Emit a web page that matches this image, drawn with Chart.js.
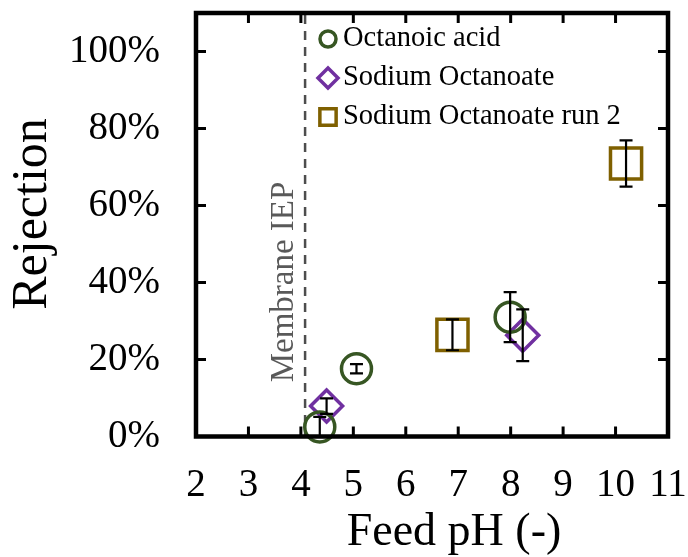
<!DOCTYPE html>
<html><head><meta charset="utf-8">
<script src="https://cdn.jsdelivr.net/npm/chart.js@4/dist/chart.umd.min.js"></script>
<style>html,body{margin:0;padding:0;background:#fff}#wrap{width:688px;height:557px}</style>
</head><body><div id="wrap"><canvas id="c" width="688" height="557"></canvas></div>
<script>
const seriesNames = ['Octanoic acid', 'Sodium Octanoate', 'Sodium Octanoate run 2'];
const acidPH = [4.36, 5.06, 7.99];
const acidRej = [2.5, 17.6, 31.0];
const acidErr = [2.6, 1.2, 6.5];
const sodiumPH = [4.49, 8.23];
const sodiumRej = [7.9, 26.3];
const sodiumErr = [2.0, 6.7];
const run2PH = [6.89, 10.2];
const run2Rej = [26.4, 70.9];
const run2Err = [4.0, 6.0];
const xTicks = [2, 3, 4, 5, 6, 7, 8, 9, 10, 11];
const yTicks = [0, 20, 40, 60, 80, 100];
const xTickLabels = xTicks.map(v => String(v));
const yTickLabels = yTicks.map(v => v + '%');
const membraneIEP = 4.08;
const iepLabel = 'Membrane IEP';
const xTitle = 'Feed pH (-)';
const yTitle = 'Rejection';

const SERIF = "'Liberation Serif', 'Times New Roman', serif";
const colors = ['#375623', '#7030A0', '#7F6000'];
const styles = ['circle', 'rectRot', 'rect'];
const radii = [15, 16, 22];
const legendRadii = [8, 10, 11.5];

function pts(xs, ys, es) { return xs.map((x, i) => ({x: x, y: ys[i], e: es[i]})); }

const datasets = [
  pts(acidPH, acidRej, acidErr),
  pts(sodiumPH, sodiumRej, sodiumErr),
  pts(run2PH, run2Rej, run2Err)
].map((d, i) => ({
  label: seriesNames[i],
  data: d,
  pointStyle: styles[i],
  pointRadius: radii[i],
  pointHoverRadius: radii[i],
  borderColor: colors[i],
  backgroundColor: 'rgba(0,0,0,0)',
  pointBorderWidth: 3.5,
  borderWidth: 3.5,
  showLine: false,
  clip: false
}));

const framePlugin = {
  id: 'frame',
  beforeDatasetsDraw(chart) {
    const {ctx, chartArea: a, scales: {x}} = chart;
    const px = x.getPixelForValue(membraneIEP);
    ctx.save();
    ctx.strokeStyle = '#4d4d4d';
    ctx.lineWidth = 2.5;
    ctx.setLineDash([9, 7]);
    ctx.beginPath();
    ctx.moveTo(px, a.top + 2);
    ctx.lineTo(px, a.bottom);
    ctx.stroke();
    ctx.setLineDash([]);
    ctx.translate(px - 12, 282);
    ctx.rotate(-Math.PI / 2);
    ctx.fillStyle = '#595959';
    ctx.font = '33px ' + SERIF;
    ctx.textAlign = 'center';
    ctx.textBaseline = 'alphabetic';
    ctx.fillText(iepLabel, 0, 0);
    ctx.restore();
  },
  afterDatasetsDraw(chart) {
    const {ctx, scales: {x, y}} = chart;
    ctx.save();
    ctx.strokeStyle = '#000';
    ctx.lineWidth = 2.2;
    chart.data.datasets.forEach(ds => {
      ds.data.forEach(p => {
        const cx = x.getPixelForValue(p.x);
        const yt = y.getPixelForValue(p.y + p.e);
        const yb = y.getPixelForValue(Math.max(0, p.y - p.e));
        ctx.beginPath();
        ctx.moveTo(cx, yt); ctx.lineTo(cx, yb);
        ctx.moveTo(cx - 6.5, yt); ctx.lineTo(cx + 6.5, yt);
        if (p.y - p.e > 0) { ctx.moveTo(cx - 6.5, yb); ctx.lineTo(cx + 6.5, yb); }
        ctx.stroke();
      });
    });
    ctx.restore();
  },
  afterDraw(chart) {
    const {ctx, chartArea: a, scales: {x, y}} = chart;
    ctx.save();
    ctx.strokeStyle = '#000';
    ctx.lineWidth = 3;
    const tl = 10;
    ctx.beginPath();
    xTicks.forEach(v => {
      if (v === xTicks[0] || v === xTicks[xTicks.length - 1]) return;
      const px = x.getPixelForValue(v);
      ctx.moveTo(px, a.bottom); ctx.lineTo(px, a.bottom - tl);
      ctx.moveTo(px, a.top); ctx.lineTo(px, a.top + tl);
    });
    yTicks.forEach(v => {
      if (v === 0) return;
      const py = y.getPixelForValue(v);
      ctx.moveTo(a.left, py); ctx.lineTo(a.left + tl, py);
      ctx.moveTo(a.right, py); ctx.lineTo(a.right - tl, py);
    });
    ctx.stroke();
    ctx.lineWidth = 4.5;
    ctx.strokeRect(a.left, a.top, a.right - a.left, a.bottom - a.top);
    ctx.restore();
    // tick labels
    ctx.save();
    ctx.fillStyle = '#000';
    ctx.font = '39px ' + SERIF;
    ctx.textBaseline = 'middle';
    ctx.textAlign = 'right';
    yTicks.forEach((v, i) => ctx.fillText(yTickLabels[i], a.left - 36, y.getPixelForValue(v)));
    ctx.textAlign = 'center';
    xTicks.forEach((v, i) => ctx.fillText(xTickLabels[i], x.getPixelForValue(v), a.bottom + 49));
    ctx.restore();
    // axis titles
    ctx.save();
    ctx.fillStyle = '#000';
    ctx.font = '46px ' + SERIF;
    ctx.textAlign = 'center';
    ctx.textBaseline = 'alphabetic';
    ctx.fillText(xTitle, 454, 545);
    ctx.translate(46, 214);
    ctx.rotate(-Math.PI / 2);
    ctx.font = '50px ' + SERIF;
    ctx.fillText(yTitle, 0, 0);
    ctx.restore();
    // legend
    const lx = 328, ly = [39, 78, 117];
    ctx.save();
    chart.data.datasets.forEach((ds, i) => {
      ctx.strokeStyle = colors[i];
      ctx.fillStyle = 'rgba(0,0,0,0)';
      ctx.lineWidth = 3.5;
      Chart.helpers.drawPoint(ctx, {
        pointStyle: styles[i], radius: legendRadii[i], borderWidth: 3.5, rotation: 0
      }, lx, ly[i]);
      ctx.fillStyle = '#000';
      ctx.font = '28.5px ' + SERIF;
      ctx.textAlign = 'left';
      ctx.textBaseline = 'middle';
      ctx.fillText(ds.label, lx + 15, ly[i]);
    });
    ctx.restore();
  }
};

new Chart(document.getElementById('c'), {
  type: 'scatter',
  data: {datasets: datasets},
  options: {
    responsive: false,
    animation: false,
    layout: {autoPadding: false, padding: {left: 0, right: 20, top: 13, bottom: 0}},
    plugins: {legend: {display: false}, tooltip: {enabled: false}},
    scales: {
      x: {
        type: 'linear', min: 2, max: 11,
        grid: {display: false, drawTicks: false},
        border: {display: false},
        afterBuildTicks: s => { s.ticks = xTicks.map(v => ({value: v})); },
        afterFit: s => { s.height = 557 - 436.5; },
        ticks: {display: false},
        title: {display: false}
      },
      y: {
        type: 'linear', min: 0, max: 110,
        grid: {display: false, drawTicks: false},
        border: {display: false},
        afterBuildTicks: s => { s.ticks = yTicks.map(v => ({value: v})); },
        afterFit: s => { s.width = 196; },
        ticks: {display: false},
        title: {display: false}
      }
    }
  },
  plugins: [framePlugin]
});
</script>
</body></html>
